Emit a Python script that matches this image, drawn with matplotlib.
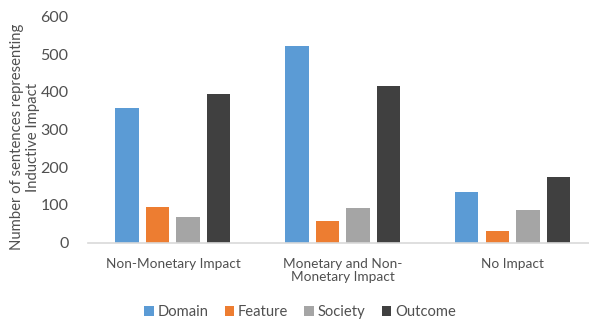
import matplotlib
matplotlib.use("Agg")
import matplotlib.pyplot as plt
import numpy as np

categories = ["Non-Monetary Impact", "Monetary and Non-\nMonetary Impact", "No Impact"]
series_names = ["Domain", "Feature", "Society", "Outcome"]
domain = [358, 522, 135]
feature = [95, 57, 30]
society = [67, 91, 85]
outcome = [393, 415, 173]
yticks = [0, 100, 200, 300, 400, 500, 600]

colors = ["#5B9BD5", "#ED7D31", "#A5A5A5", "#404040"]
txt = "#505050"
plt.rcParams['font.family'] = ['Lato', 'DejaVu Sans']

fig = plt.figure(figsize=(5.89, 3.22), dpi=100)
ax = fig.add_axes([88/589, 1-242.5/322, 1-88/589, (242.5-16.5)/322])

x = np.arange(len(categories))
pitch = 0.18
width = 0.138
data = [domain, feature, society, outcome]
for i, (name, vals) in enumerate(zip(series_names, data)):
    ax.bar(x + (i - 1.5) * pitch, vals, width, color=colors[i], label=name)

ax.set_xlim(-0.5, 2.45)
ax.set_ylim(0, 600)
ax.set_yticks(yticks)
ax.set_yticklabels([str(t) for t in yticks], fontsize=11.5, color=txt)
ax.set_xticks(x)
ax.set_xticklabels(categories, fontsize=9.8, color=txt, linespacing=1.15)
ax.tick_params(axis='both', length=0)
ax.tick_params(axis='y', pad=14)
ax.tick_params(axis='x', pad=11)
for s in ["top", "right", "left"]:
    ax.spines[s].set_visible(False)
ax.spines["bottom"].set_color("#D9D9D9")
ax.spines["bottom"].set_linewidth(1.2)

fig.text(25/589, 1-137/322, "Number of sentences representing\nInductive Impact", rotation=90,
         ha="center", va="center", fontsize=10.7, color=txt, linespacing=1.2)

handles, labels = ax.get_legend_handles_labels()
fig.legend(handles, labels, loc="center", bbox_to_anchor=(300/589, 1-312/322), ncol=4,
           frameon=False, fontsize=10.6, handlelength=0.65, handleheight=0.65,
           handletextpad=0.25, columnspacing=1.1, labelcolor=txt)

fig.savefig("out.png", dpi=100, facecolor="white")
